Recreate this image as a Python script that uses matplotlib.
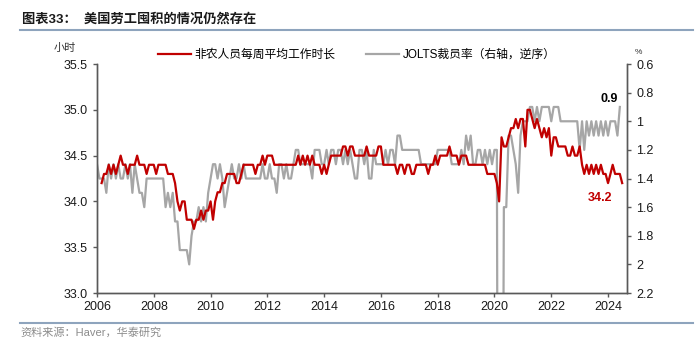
import matplotlib
matplotlib.use("Agg")
import matplotlib.pyplot as plt
import matplotlib.dates as mdates
import pandas as pd
from matplotlib.ticker import FuncFormatter

plt.rcParams['font.family'] = ['Liberation Sans', 'Noto Sans CJK SC']
plt.rcParams['axes.unicode_minus'] = False

# 非农人员每周平均工作时长 (hours), monthly from 2006-03
hours_start = "2006-03-01"
hours = [
    34.2, 34.3, 34.3, 34.4, 34.3, 34.4, 34.3, 34.4, 34.5, 34.4,
    34.4, 34.3, 34.4, 34.4, 34.4, 34.5, 34.4, 34.4, 34.4, 34.3, 34.4, 34.4,
    34.4, 34.3, 34.4, 34.4, 34.4, 34.4, 34.3, 34.3, 34.3, 34.2, 34.0, 33.9,
    34.0, 34.0, 33.8, 33.8, 33.8, 33.7, 33.8, 33.8, 33.9, 33.8, 33.9, 33.9,
    34.0, 33.8, 34.0, 34.1, 34.1, 34.2, 34.2, 34.3, 34.3, 34.3, 34.3, 34.2,
    34.2, 34.3, 34.4, 34.4, 34.4, 34.4, 34.4, 34.3, 34.4, 34.4, 34.5, 34.4,
    34.5, 34.5, 34.5, 34.4, 34.4, 34.4, 34.4, 34.4, 34.4, 34.4, 34.4, 34.4,
    34.4, 34.5, 34.4, 34.5, 34.4, 34.5, 34.4, 34.5, 34.4, 34.4, 34.4, 34.3,
    34.4, 34.3, 34.4, 34.5, 34.5, 34.5, 34.5, 34.5, 34.6, 34.6, 34.5, 34.6,
    34.6, 34.5, 34.5, 34.5, 34.5, 34.5, 34.6, 34.5, 34.5, 34.5, 34.5, 34.6,
    34.6, 34.4, 34.4, 34.4, 34.4, 34.4, 34.4, 34.3, 34.4, 34.4, 34.3, 34.4,
    34.4, 34.3, 34.3, 34.4, 34.4, 34.4, 34.4, 34.4, 34.3, 34.4, 34.4, 34.5,
    34.4, 34.5, 34.5, 34.5, 34.5, 34.6, 34.5, 34.5, 34.5, 34.4, 34.5, 34.5,
    34.5, 34.4, 34.4, 34.4, 34.4, 34.4, 34.4, 34.4, 34.4, 34.3, 34.3, 34.3,
    34.3, 34.2, 34.0, 34.7, 34.6, 34.6, 34.7, 34.8, 34.8, 34.9, 34.8, 34.9,
    34.9, 34.6, 35.0, 35.0, 34.9, 34.8, 34.9, 34.8, 34.7, 34.8, 34.7, 34.8,
    34.5, 34.7, 34.7, 34.6, 34.6, 34.6, 34.6, 34.5, 34.5, 34.6, 34.5, 34.5,
    34.6, 34.4, 34.3, 34.4, 34.3, 34.4, 34.3, 34.4, 34.3, 34.4, 34.3, 34.3,
    34.2, 34.3, 34.4, 34.3, 34.3, 34.3, 34.2,
]

# JOLTS裁员率 (%), monthly from 2006-01
layoff_start = "2006-01-01"
layoffs = [
    1.3, 1.4, 1.4, 1.4, 1.5, 1.3, 1.4, 1.3, 1.4, 1.3, 1.4, 1.4,
    1.3, 1.4, 1.3, 1.5, 1.3, 1.4, 1.5, 1.5, 1.6, 1.4, 1.4, 1.4,
    1.4, 1.4, 1.4, 1.4, 1.4, 1.6, 1.5, 1.6, 1.5, 1.7, 1.7, 1.9,
    1.9, 1.9, 1.9, 2.0, 1.8, 1.7, 1.7, 1.6, 1.7, 1.6, 1.7, 1.5,
    1.4, 1.3, 1.3, 1.4, 1.3, 1.4, 1.6, 1.5, 1.4, 1.3, 1.4, 1.4,
    1.3, 1.4, 1.3, 1.4, 1.4, 1.4, 1.4, 1.4, 1.4, 1.4, 1.3, 1.4,
    1.4, 1.3, 1.4, 1.4, 1.5, 1.3, 1.3, 1.4, 1.3, 1.4, 1.4, 1.3,
    1.2, 1.2, 1.3, 1.3, 1.3, 1.3, 1.3, 1.4, 1.2, 1.2, 1.2, 1.3,
    1.3, 1.2, 1.3, 1.2, 1.2, 1.3, 1.2, 1.2, 1.3, 1.2, 1.3, 1.2,
    1.3, 1.4, 1.4, 1.2, 1.2, 1.3, 1.2, 1.4, 1.4, 1.2, 1.3, 1.3,
    1.3, 1.3, 1.2, 1.3, 1.2, 1.2, 1.3, 1.1, 1.1, 1.2, 1.2, 1.2,
    1.2, 1.2, 1.2, 1.2, 1.2, 1.3, 1.3, 1.3, 1.3, 1.3, 1.3, 1.3,
    1.2, 1.2, 1.2, 1.2, 1.2, 1.2, 1.3, 1.3, 1.3, 1.3, 1.2, 1.3,
    1.1, 1.2, 1.1, 1.3, 1.3, 1.2, 1.2, 1.3, 1.2, 1.3, 1.2, 1.3,
    1.2, 1.2, 7.5, 5.9, 1.6, 1.6, 1.1, 1.1, 1.2, 1.3, 1.5, 1.1,
    1.0, 1.0, 1.0, 0.9, 0.9, 1.0, 0.9, 1.0, 0.9, 0.9, 0.9, 0.9,
    1.0, 0.9, 0.9, 0.9, 1.0, 1.0, 1.0, 1.0, 1.0, 1.0, 1.0, 1.0,
    1.2, 1.0, 1.2, 1.0, 1.1, 1.0, 1.1, 1.0, 1.1, 1.0, 1.1, 1.0,
    1.1, 1.0, 1.0, 1.0, 1.1, 0.9,
]

hours_dates = pd.date_range(hours_start, periods=len(hours), freq="MS")
layoff_dates = pd.date_range(layoff_start, periods=len(layoffs), freq="MS")

red = "#C00000"
grey = "#A6A6A6"
spine_c = "#595959"

fig = plt.figure(figsize=(7.0, 3.51), dpi=100)
ax = fig.add_axes([0.1386, 0.1652, 0.7571, 0.6524])
ax2 = ax.twinx()

l2, = ax2.plot(layoff_dates, layoffs, color=grey, lw=1.6, label="JOLTS裁员率（右轴，逆序）")
l1, = ax.plot(hours_dates, hours, color=red, lw=1.6, label="非农人员每周平均工作时长")
ax.set_zorder(ax2.get_zorder() + 1)
ax.patch.set_visible(False)

ax.set_ylim(33.0, 35.5)
ax.set_yticks([33.0, 33.5, 34.0, 34.5, 35.0, 35.5])
ax.yaxis.set_major_formatter(FuncFormatter(lambda v, p: f"{v:.1f}"))
ax2.set_ylim(2.2, 0.6)
ax2.set_yticks([0.6, 0.8, 1.0, 1.2, 1.4, 1.6, 1.8, 2.0, 2.2])
ax2.yaxis.set_major_formatter(FuncFormatter(lambda v, p: f"{v:g}"))

ax.set_xlim(pd.Timestamp("2006-01-01"), pd.Timestamp("2024-09-01"))
ax.xaxis.set_major_locator(mdates.YearLocator(2))
ax.xaxis.set_major_formatter(mdates.DateFormatter("%Y"))

for a in (ax, ax2):
    a.spines["top"].set_visible(False)
    for s in ("left", "right", "bottom"):
        a.spines[s].set_color(spine_c)
        a.spines[s].set_linewidth(1.0)
    a.tick_params(direction="out", length=3, width=1.0, color=spine_c,
                  labelsize=9, labelcolor="#1a1a1a")
ax.tick_params(axis="x", pad=3)

ax.text(-0.06, 1.07, "小时", transform=ax.transAxes, fontsize=8,
        ha="center", va="center", color="#333333")
ax2.text(1.015, 1.05, "%", transform=ax2.transAxes, fontsize=6,
         ha="left", va="center", color="#333333")

ax.annotate("34.2", xy=(hours_dates[-1], hours[-1]), xytext=(-16, -11),
            textcoords="offset points", color=red, fontsize=9,
            fontweight="bold", ha="center", va="center")
ax2.annotate("0.9", xy=(layoff_dates[-1], layoffs[-1]), xytext=(-8, 6),
             textcoords="offset points", color="black", fontsize=9,
             fontweight="bold", ha="center", va="center")

fig.legend(handles=[l1, l2], loc="center", bbox_to_anchor=(0.51, 0.843),
           ncol=2, frameon=False, fontsize=8.5, handlelength=2.8,
           columnspacing=2.6, handletextpad=0.3)

fig.text(0.032, 0.945, "图表33：  美国劳工囤积的情况仍然存在", fontsize=9.5,
         fontweight="bold", ha="left", va="center", color="#1a1a1a")
fig.add_artist(plt.Line2D([0.029, 0.99], [0.915, 0.915], color="#8EA4BD", lw=1.5))
fig.add_artist(plt.Line2D([0.029, 0.99], [0.081, 0.081], color="#8EA4BD", lw=1.5))
fig.text(0.029, 0.052, "资料来源：Haver，华泰研究", fontsize=8,
         ha="left", va="center", color="#8c8c8c")

fig.savefig("out.png", dpi=100)
